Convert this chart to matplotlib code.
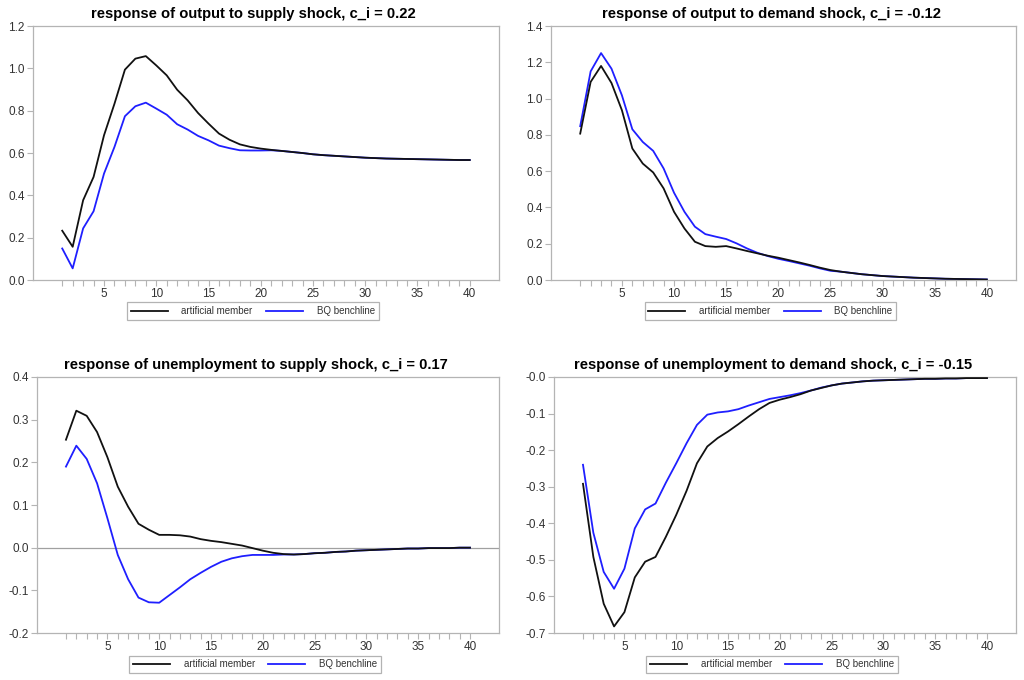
import numpy as np
import matplotlib
matplotlib.use('Agg')
import matplotlib.pyplot as plt
from matplotlib.ticker import FuncFormatter

plt.rcParams['font.family'] = ['Liberation Sans', 'DejaVu Sans']

periods = list(range(1, 41))

# response of output to supply shock
out_sup_art = [0.233, 0.157, 0.377, 0.487, 0.684, 0.833, 0.994, 1.046, 1.058, 1.014,
               0.967, 0.899, 0.849, 0.789, 0.739, 0.692, 0.663, 0.641, 0.629, 0.621,
               0.615, 0.610, 0.605, 0.600, 0.594, 0.590, 0.587, 0.584, 0.581, 0.578,
               0.576, 0.574, 0.573, 0.572, 0.571, 0.570, 0.569, 0.568, 0.567, 0.567]
out_sup_bq = [0.149, 0.055, 0.244, 0.325, 0.503, 0.629, 0.774, 0.821, 0.838, 0.810,
              0.781, 0.736, 0.711, 0.681, 0.660, 0.635, 0.623, 0.613, 0.612, 0.612,
              0.613, 0.610, 0.605, 0.600, 0.594, 0.590, 0.587, 0.584, 0.581, 0.578,
              0.576, 0.574, 0.573, 0.572, 0.571, 0.570, 0.569, 0.568, 0.567, 0.567]

# response of output to demand shock
out_dem_art = [0.807, 1.092, 1.180, 1.086, 0.936, 0.725, 0.642, 0.593, 0.505, 0.376,
               0.284, 0.211, 0.187, 0.183, 0.187, 0.174, 0.160, 0.147, 0.134, 0.123,
               0.110, 0.097, 0.083, 0.068, 0.055, 0.046, 0.039, 0.032, 0.027, 0.022,
               0.019, 0.016, 0.013, 0.011, 0.009, 0.007, 0.006, 0.005, 0.004, 0.003]
out_dem_bq = [0.848, 1.150, 1.251, 1.165, 1.018, 0.831, 0.761, 0.712, 0.615, 0.481,
              0.376, 0.294, 0.253, 0.239, 0.226, 0.202, 0.174, 0.150, 0.132, 0.117,
              0.105, 0.092, 0.079, 0.064, 0.051, 0.046, 0.039, 0.032, 0.027, 0.022,
              0.019, 0.016, 0.013, 0.011, 0.009, 0.007, 0.006, 0.005, 0.004, 0.003]

# response of unemployment to supply shock
un_sup_art = [0.253, 0.321, 0.309, 0.271, 0.212, 0.143, 0.096, 0.056, 0.042, 0.030,
              0.030, 0.029, 0.026, 0.020, 0.016, 0.013, 0.009, 0.005, -0.001, -0.007,
              -0.012, -0.015, -0.016, -0.015, -0.013, -0.012, -0.010, -0.009, -0.007, -0.006,
              -0.005, -0.004, -0.003, -0.002, -0.002, -0.001, -0.001, -0.001, 0.0, 0.0]
un_sup_bq = [0.190, 0.239, 0.208, 0.151, 0.069, -0.017, -0.074, -0.117, -0.128, -0.129,
             -0.111, -0.093, -0.074, -0.059, -0.045, -0.033, -0.025, -0.020, -0.017, -0.017,
             -0.017, -0.016, -0.016, -0.015, -0.013, -0.012, -0.010, -0.009, -0.007, -0.006,
             -0.005, -0.004, -0.003, -0.002, -0.002, -0.001, -0.001, -0.001, 0.0, 0.0]

# response of unemployment to demand shock
un_dem_art = [-0.292, -0.492, -0.620, -0.682, -0.643, -0.548, -0.505, -0.492, -0.437, -0.377,
              -0.311, -0.236, -0.190, -0.167, -0.149, -0.129, -0.108, -0.088, -0.071, -0.062,
              -0.055, -0.047, -0.037, -0.030, -0.023, -0.018, -0.015, -0.012, -0.010, -0.009,
              -0.008, -0.007, -0.006, -0.005, -0.005, -0.004, -0.004, -0.003, -0.003, -0.003]
un_dem_bq = [-0.240, -0.426, -0.533, -0.579, -0.524, -0.414, -0.362, -0.346, -0.289, -0.236,
             -0.181, -0.131, -0.103, -0.097, -0.094, -0.088, -0.078, -0.069, -0.060, -0.055,
             -0.050, -0.044, -0.037, -0.029, -0.023, -0.018, -0.015, -0.012, -0.010, -0.009,
             -0.008, -0.007, -0.006, -0.005, -0.005, -0.004, -0.004, -0.003, -0.003, -0.003]

titles = ['response of output to supply shock, c_i = 0.22',
          'response of output to demand shock, c_i = -0.12',
          'response of unemployment to supply shock, c_i = 0.17',
          'response of unemployment to demand shock, c_i = -0.15']

spine_color = '#b4b4b4'
text_color = '#333333'

fig = plt.figure(figsize=(10.24, 6.8), dpi=100)

# [left, bottom, width, height] in figure fractions
panels = [
    ([0.0322, 0.5882, 0.4551, 0.3735], out_sup_art, out_sup_bq, (0.0, 1.2), np.arange(0, 1.21, 0.2), False),
    ([0.5381, 0.5882, 0.4541, 0.3735], out_dem_art, out_dem_bq, (0.0, 1.4), np.arange(0, 1.41, 0.2), False),
    ([0.0361, 0.0691, 0.4512, 0.3765], un_sup_art, un_sup_bq, (-0.2, 0.4), np.arange(-0.2, 0.41, 0.1), True),
    ([0.5410, 0.0691, 0.4512, 0.3765], un_dem_art, un_dem_bq, (-0.7, 0.0), np.arange(-0.7, 0.01, 0.1), False),
]

for i, (rect, art, bq, ylim, yticks, zero_line) in enumerate(panels):
    ax = fig.add_axes(rect)
    if zero_line:
        ax.axhline(0, color='#a0a0a0', lw=0.9, zorder=1)
    ax.plot(periods, art, color='#111111', lw=1.3, label='artificial member', zorder=3)
    ax.plot(periods, bq, color='#1f1fff', lw=1.3, label='BQ benchline', zorder=2)

    ax.set_xlim(-1.8, 42.8)
    ax.set_ylim(*ylim)
    ax.set_xticks(periods)
    ax.set_xticklabels([str(p) if p % 5 == 0 else '' for p in periods])
    ax.set_yticks(yticks)
    if i == 3:
        ax.yaxis.set_major_formatter(FuncFormatter(lambda v, pos: '-0.0' if abs(v) < 1e-9 else f'{v:.1f}'))
    else:
        ax.yaxis.set_major_formatter(FuncFormatter(lambda v, pos: '0.0' if abs(v) < 1e-9 else f'{v:.1f}'))

    for s in ax.spines.values():
        s.set_color(spine_color)
        s.set_linewidth(0.9)
    ax.tick_params(axis='both', direction='out', length=4, width=0.8,
                   color=spine_color, labelsize=8.5, labelcolor=text_color, pad=2)

    ax.set_title(titles[i], fontsize=10.6, fontweight='bold', x=0.474, pad=6)

    leg = ax.legend(loc='upper center', bbox_to_anchor=(0.472, -0.088), ncol=2,
                    fontsize=7, frameon=True, fancybox=False, edgecolor='#a0a0a0',
                    handlelength=3.8, handletextpad=1.4, columnspacing=1.4,
                    borderpad=0.4, borderaxespad=0)
    leg.get_frame().set_linewidth(0.9)
    for t in leg.get_texts():
        t.set_color(text_color)

fig.savefig('out.png', dpi=100)
